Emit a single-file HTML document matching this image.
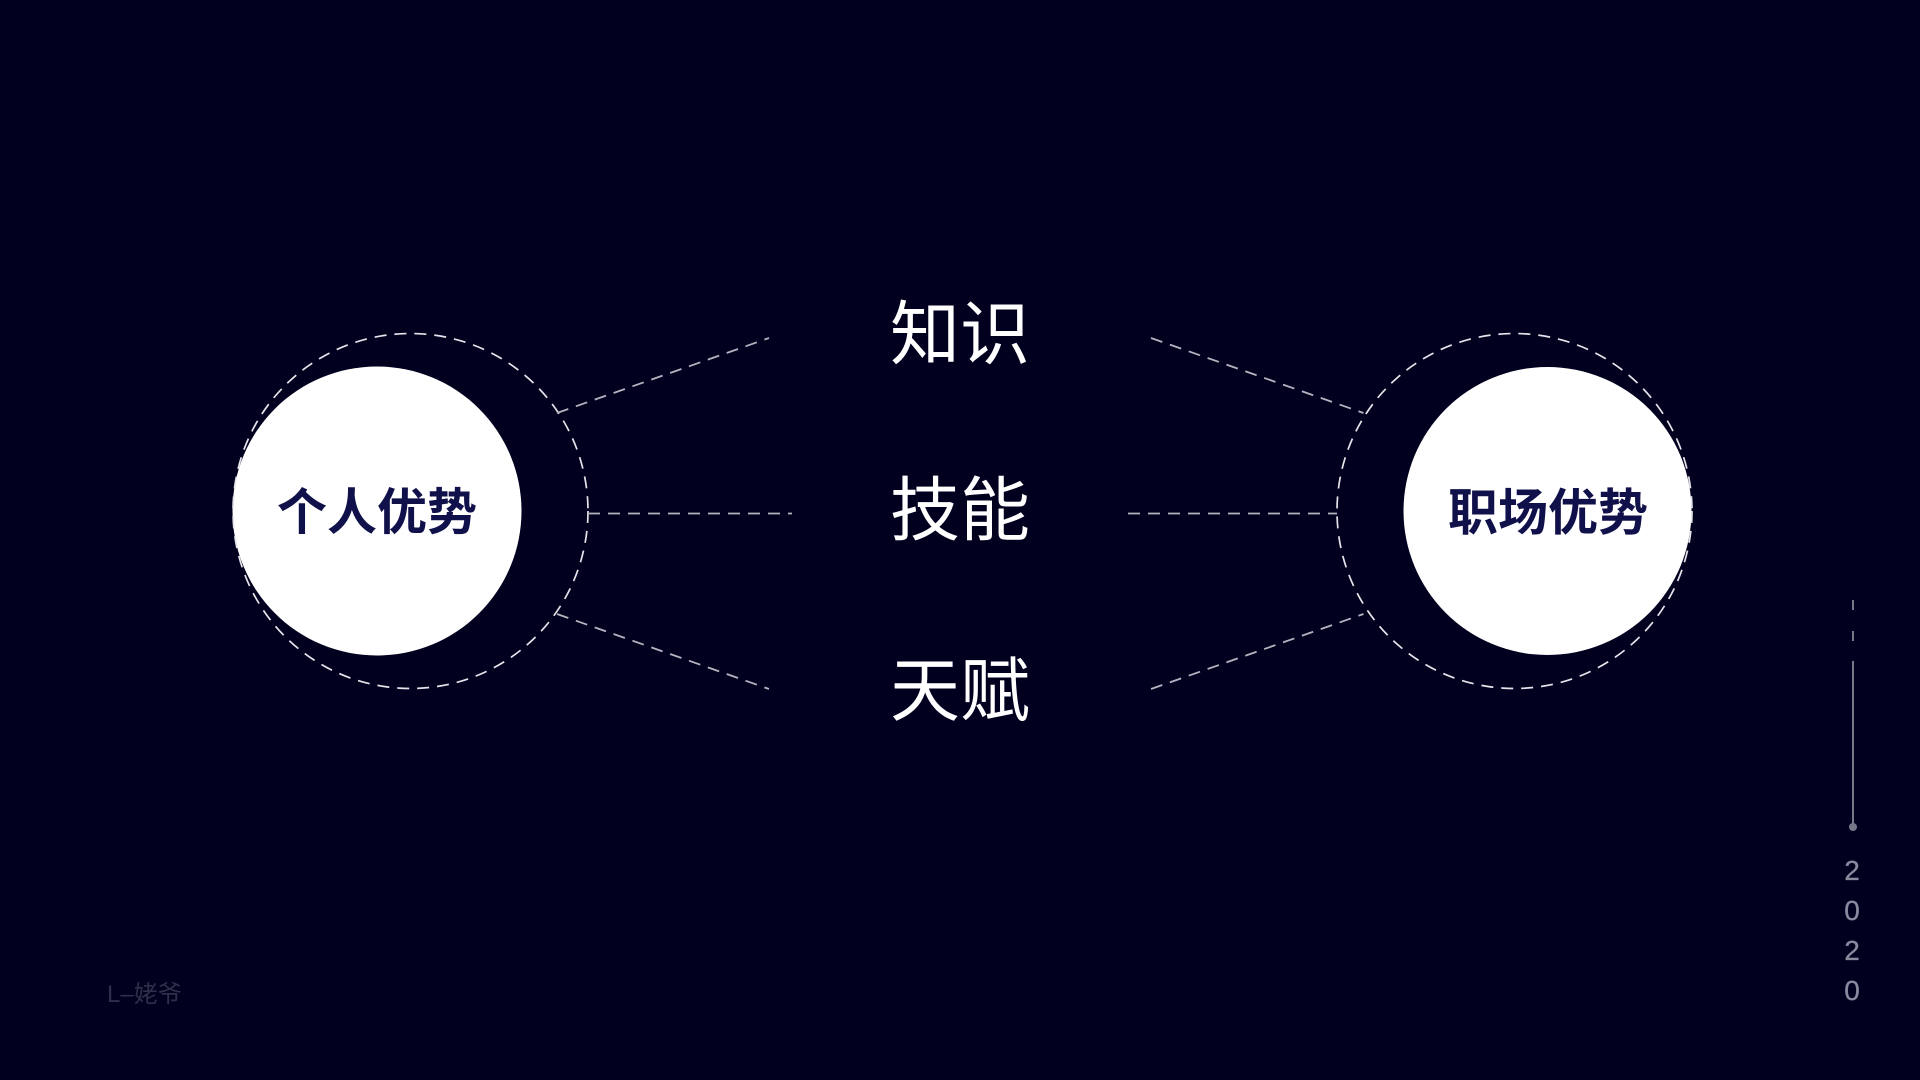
<!DOCTYPE html>
<html lang="zh">
<head>
<meta charset="utf-8">
<title>个人优势 职场优势</title>
<style>
html,body{margin:0;padding:0;background:#01001f;width:1920px;height:1080px;overflow:hidden}
svg{display:block}
.cjk{font-family:"Liberation Sans","Noto Sans CJK SC",sans-serif}
</style>
</head>
<body>
<svg width="1920" height="1080" viewBox="0 0 1920 1080" xmlns="http://www.w3.org/2000/svg">
<rect width="1920" height="1080" fill="#01001f"/>

<circle cx="377" cy="511" r="144.5" fill="#ffffff"/>
<circle cx="1547.5" cy="511" r="144" fill="#ffffff"/>

<g fill="none" stroke="#e4e4ea" stroke-width="1.7" stroke-dasharray="12 8">
<circle cx="410.5" cy="511" r="177.5"/>
<circle cx="1514.5" cy="511" r="177.5"/>
</g>

<g fill="none" stroke="#b4b4c0" stroke-width="1.8" stroke-dasharray="12 8">
<line x1="557" y1="413" x2="769" y2="338"/>
<line x1="588" y1="513.5" x2="792" y2="513.5"/>
<line x1="557" y1="614" x2="769" y2="689"/>
<line x1="1151" y1="338" x2="1363.5" y2="413"/>
<line x1="1128" y1="513.5" x2="1337" y2="513.5"/>
<line x1="1151" y1="689" x2="1363.5" y2="614"/>
</g>

<g class="cjk" fill="#ffffff" font-size="70" text-anchor="middle">
<text x="960" y="358.5">知识</text>
<text x="960" y="534.5">技能</text>
<text x="960" y="715">天赋</text>
</g>

<g class="cjk" fill="#10104a" font-size="50" font-weight="700" text-anchor="middle">
<text x="377" y="529.5">个人优势</text>
<text x="1548" y="530">职场优势</text>
</g>

<g stroke="#77778a" stroke-width="2">
<line x1="1853" y1="600" x2="1853" y2="610"/>
<line x1="1853" y1="631" x2="1853" y2="641"/>
<line x1="1853" y1="661" x2="1853" y2="827"/>
</g>
<circle cx="1853" cy="827" r="4" fill="#77778a"/>

<g font-family="'Liberation Sans',sans-serif" font-size="28" fill="#8a8a9e" stroke="#8a8a9e" stroke-width="0.3" text-anchor="middle">
<text x="1852" y="880">2</text>
<text x="1852" y="920">0</text>
<text x="1852" y="960">2</text>
<text x="1852" y="1000">0</text>
</g>

<text class="cjk" x="107" y="1002" font-size="24" fill="#2f2f4a">L–姥爷</text>
</svg>
</body>
</html>
